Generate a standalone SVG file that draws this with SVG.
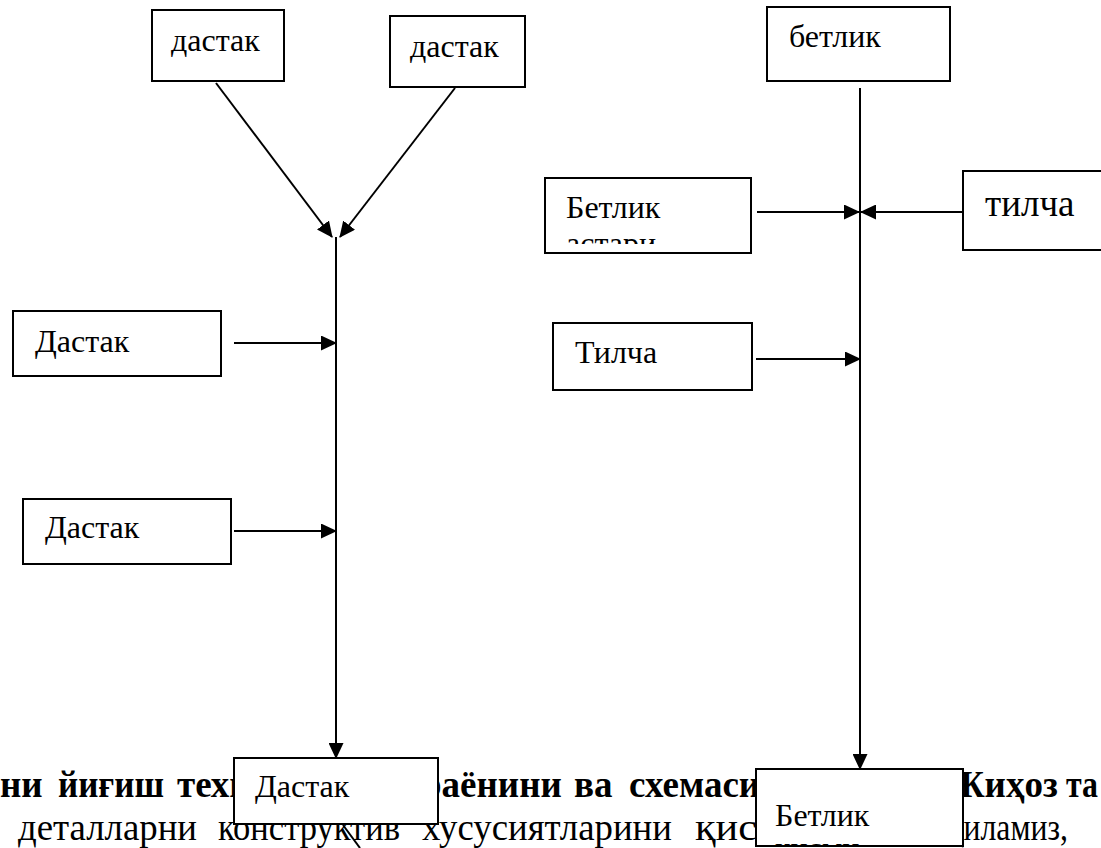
<svg xmlns="http://www.w3.org/2000/svg" width="1101" height="848" viewBox="0 0 1101 848">
<style>
.box{fill:#fff;stroke:#000;stroke-width:2}
.lbl{font-family:"Liberation Serif","Times New Roman",serif;font-size:32px;fill:#000}
.bg{font-family:"Liberation Serif","Times New Roman",serif;font-size:37px;fill:#000}
.bold{font-weight:bold}
.conn{stroke:#000;stroke-width:2;fill:none}
</style>
<defs>
<marker id="arr" markerUnits="userSpaceOnUse" markerWidth="16" markerHeight="15" refX="15" refY="7.5" orient="auto">
<path d="M0,0 L16,7.5 L0,15 z" fill="#000"/>
</marker>
<clipPath id="clipAstari"><rect x="546" y="179" width="204" height="65"/></clipPath>
<clipPath id="clipKismi"><rect x="757" y="770" width="205" height="75"/></clipPath>
</defs>
<rect width="1101" height="848" fill="#fff"/>
<g id="background-text">
<text class="bg bold" x="0" y="797">ни</text>
<text class="bg bold" x="58" y="797" textLength="106" lengthAdjust="spacingAndGlyphs">йиғиш</text>
<text class="bg bold" x="177" y="797">техн</text>
<text class="bg bold" x="421" y="797">раёнини</text>
<text class="bg bold" x="574" y="797">ва</text>
<text class="bg bold" x="629" y="797">схемаси</text>
<text class="bg bold" x="948" y="797">Жиҳоз</text>
<text class="bg bold" x="1066" y="797" textLength="32" lengthAdjust="spacingAndGlyphs">та</text>
<text class="bg" x="18" y="840" textLength="179" lengthAdjust="spacingAndGlyphs">деталларни</text>
<text class="bg" x="218" y="840" textLength="182" lengthAdjust="spacingAndGlyphs">конструктив</text>
<text class="bg" x="422" y="840" textLength="250" lengthAdjust="spacingAndGlyphs">хусусиятларини</text>
<text class="bg" x="695" y="840" textLength="62" lengthAdjust="spacingAndGlyphs">қис</text>
<text class="bg" x="948" y="840" textLength="120" lengthAdjust="spacingAndGlyphs">қиламиз,</text>
</g>
<g id="connectors">
<line class="conn" x1="216" y1="83" x2="332" y2="237" marker-end="url(#arr)"/>
<line class="conn" x1="455" y1="88" x2="340" y2="237" marker-end="url(#arr)"/>
<line class="conn" x1="336" y1="237" x2="336" y2="758" marker-end="url(#arr)"/>
<line class="conn" x1="234" y1="343" x2="336" y2="343" marker-end="url(#arr)"/>
<line class="conn" x1="234" y1="531" x2="336" y2="531" marker-end="url(#arr)"/>
<line class="conn" x1="860" y1="88" x2="860" y2="769" marker-end="url(#arr)"/>
<line class="conn" x1="757" y1="212" x2="859" y2="212" marker-end="url(#arr)"/>
<line class="conn" x1="963" y1="212" x2="861" y2="212" marker-end="url(#arr)"/>
<line class="conn" x1="756" y1="359" x2="860" y2="359" marker-end="url(#arr)"/>
<line class="conn" x1="343" y1="825" x2="360" y2="848"/>
</g>
<g id="node-dastak-top-left">
<rect class="box" x="152" y="10" width="132" height="71"/>
<text class="lbl" x="171" y="51">дастак</text>
</g>
<g id="node-dastak-top-right">
<rect class="box" x="390" y="16" width="135" height="71"/>
<text class="lbl" x="410" y="57">дастак</text>
</g>
<g id="node-dastak-1">
<rect class="box" x="13" y="311" width="208" height="65"/>
<text class="lbl" x="35" y="352">Дастак</text>
</g>
<g id="node-dastak-2">
<rect class="box" x="23" y="499" width="208" height="65"/>
<text class="lbl" x="45" y="538">Дастак</text>
</g>
<g id="node-dastak-bottom">
<rect class="box" x="234" y="758" width="204" height="66"/>
<text class="lbl" x="255" y="797">Дастак</text>
</g>
<g id="node-betlik-top">
<rect class="box" x="767" y="7" width="183" height="74"/>
<text class="lbl" x="789" y="47">бетлик</text>
</g>
<g id="node-betlik-astari">
<rect class="box" x="545" y="178" width="206" height="75"/>
<g clip-path="url(#clipAstari)">
<text class="lbl" x="566" y="218">Бетлик</text>
<text class="lbl" x="566" y="254">астари</text>
</g>
</g>
<g id="node-tilcha-right">
<rect class="box" x="963" y="171" width="150" height="79"/>
<text class="lbl" x="985" y="216" style="font-size:37px">тилча</text>
</g>
<g id="node-tilcha">
<rect class="box" x="553" y="323" width="199" height="67"/>
<text class="lbl" x="575" y="363">Тилча</text>
</g>
<g id="node-betlik-kismi">
<rect class="box" x="756" y="769" width="207" height="77"/>
<g clip-path="url(#clipKismi)">
<text class="lbl" x="775" y="826">Бетлик</text>
<text class="lbl" x="775" y="859">кисми</text>
</g>
</g>
</svg>
